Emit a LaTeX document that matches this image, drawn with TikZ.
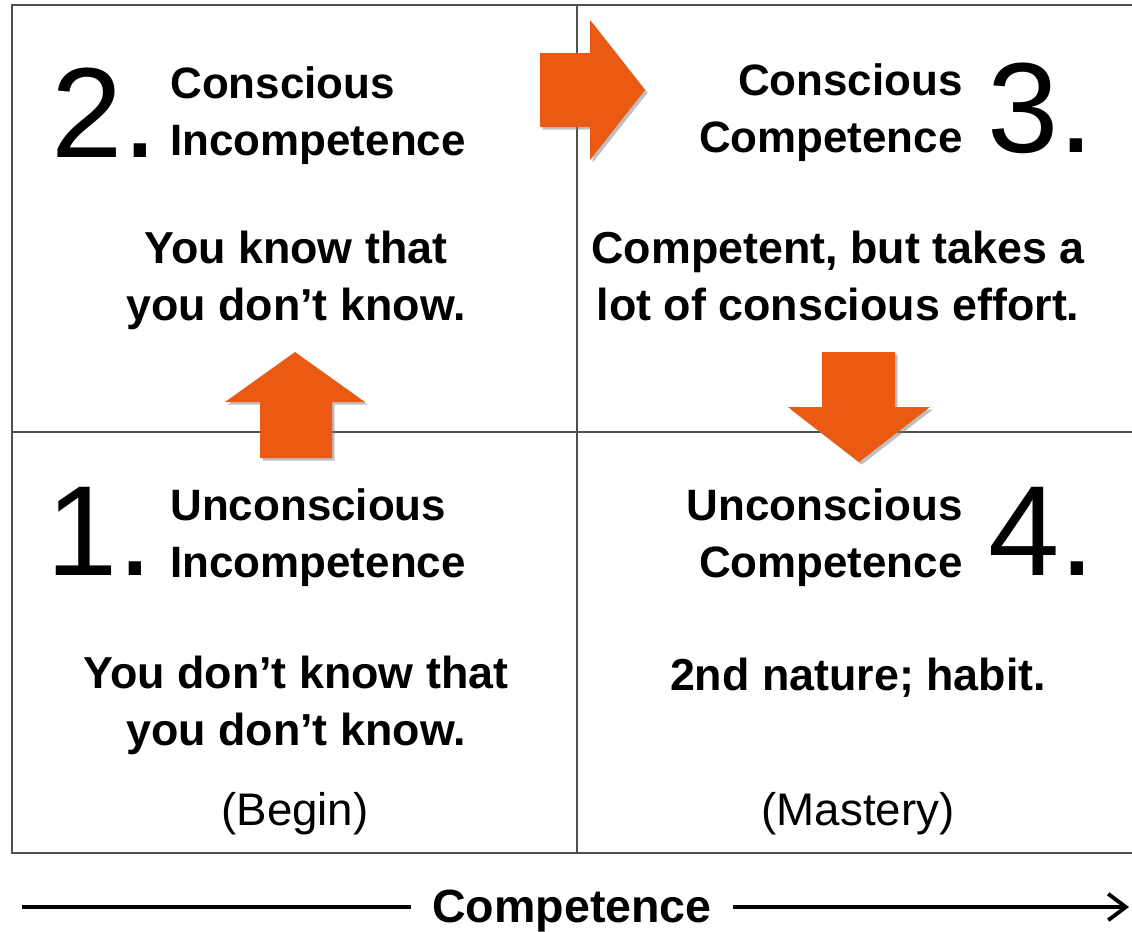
\documentclass[tikz,border=0pt]{standalone}
\usepackage{fontspec}
\setmainfont{Liberation Sans}
\usetikzlibrary{arrows.meta, shadows}
\definecolor{arroworange}{RGB}{234,90,18}
\definecolor{gridgray}{RGB}{80,80,80}

\begin{document}
\begin{tikzpicture}[% one unit = one pixel, y runs downwards
         x = 0.02cm, y = -0.02cm,
         > = {Straight Barb[length=10pt, width=15pt]},
num/.style = {font=\fontsize{73}{73}\selectfont,
              anchor=base west, inner sep=0pt},
head/.style = {font=\fontsize{25}{32}\selectfont\bfseries,
               inner sep=0pt},
body/.style = {font=\fontsize{25.5}{32}\selectfont\bfseries,
               align=center, anchor=base, inner sep=0pt},
note/.style = {font=\fontsize{26}{32}\selectfont,
               anchor=base, inner sep=0pt},
block/.style = {fill=arroworange,
                drop shadow={shadow xshift=1.5pt, shadow yshift=-1.5pt,
                             opacity=0.5}}
                    ]
	\useasboundingbox (0,0) rectangle (1132,931);

	% the four quadrants
	\coordinate (NW) at (12,5);
	\coordinate (SW) at (12,853);
	\coordinate (NE) at (1140,5);
	\coordinate (SE) at (1140,853);
	\coordinate (T) at (577,5);
	\coordinate (B) at (577,853);
	\coordinate (L) at (12,432);
	\coordinate (R) at (1140,432);
	\draw [gridgray, line width=1.3pt] (NE) -- (NW) -- (SW) -- (SE)
	                                   (T) -- (B) (L) -- (R);

	% block arrows between the stages
	\fill [block] (260,458) -- (260,402) -- (225,402) -- (295,352)
	              -- (365,402) -- (332,402) -- (332,458) -- cycle;
	\fill [block] (540,53) -- (590,53) -- (590,20) -- (645,90)
	              -- (590,160) -- (590,127) -- (540,127) -- cycle;
	\fill [block] (822,352) -- (895,352) -- (895,407) -- (930,407)
	              -- (859,462) -- (788,407) -- (822,407) -- cycle;

	% stage 2 (base = last line)
	\node [num] (n2) at (51,157) {2.};
	\node [head, anchor=base west, align=left] (h2) at (170,155)
	      {Conscious\\Incompetence};
	\node [body] (b2) at (296,320) {You know that\\you don't know.};

	% stage 3
	\node [num] (n3) at (987,152) {3.};
	\node [head, anchor=base east, align=right] (h3) at (963,152)
	      {Conscious\\Competence};
	\node [body] (b3) at (838,320)
	      {Competent, but takes a\\lot of conscious effort.};

	% stage 1
	\node [num] (n1) at (46,575) {1.};
	\node [head, anchor=base west, align=left] (h1) at (170,577)
	      {Unconscious\\Incompetence};
	\node [body] (b1) at (296,745) {You don't know that\\you don't know.};
	\node [note] (s1) at (295,825) {(Begin)};

	% stage 4
	\node [num] (n4) at (988,575) {4.};
	\node [head, anchor=base east, align=right] (h4) at (963,577)
	      {Unconscious\\Competence};
	\node [body] (b4) at (858,690) {2nd nature; habit.};
	\node [note] (s4) at (858,825) {(Mastery)};

	% competence axis
	\coordinate (ax) at (22,907);
	\coordinate (bx) at (1129,907);
	\node [font=\fontsize{26.5}{26.5}\selectfont\bfseries, anchor=base,
	       inner xsep=12pt] (comp) at (572,922) {Competence};
	\draw [line width=2.2pt] (ax) -- (ax -| comp.west);
	\draw [->, line width=2.2pt] (ax -| comp.east) -- (bx);
\end{tikzpicture}
\end{document}
